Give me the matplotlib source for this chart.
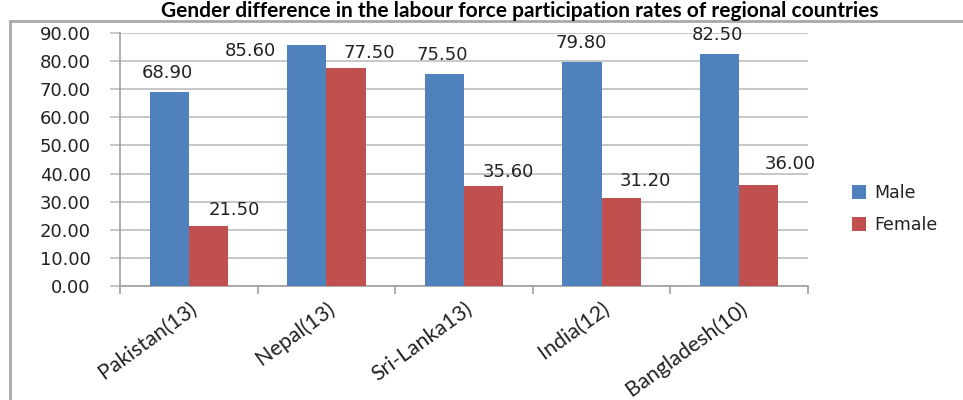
import matplotlib
matplotlib.use("Agg")
import matplotlib.pyplot as plt
from matplotlib.lines import Line2D
import numpy as np

countries = ["Pakistan(13)", "Nepal(13)", "Sri-Lanka13)", "India(12)", "Bangladesh(10)"]
male = [68.90, 85.60, 75.50, 79.80, 82.50]
female = [21.50, 77.50, 35.60, 31.20, 36.00]
yticks = [0, 10, 20, 30, 40, 50, 60, 70, 80, 90]

MALE_C = "#4F81BD"
FEMALE_C = "#C0504D"
GRID_C = "#BEBEBE"
TXT_C = "#222222"

plt.rcParams["font.family"] = ["DejaVu Sans"]

fig = plt.figure(figsize=(9.63, 4.0), dpi=100)
ax = fig.add_axes([120 / 963, 1 - 286 / 400, (808 - 120) / 963, (286 - 33) / 400])

x = np.arange(len(countries))
w = 0.285
b1 = ax.bar(x - w / 2, male, w, color=MALE_C, label="Male", zorder=3)
b2 = ax.bar(x + w / 2, female, w, color=FEMALE_C, label="Female", zorder=3)

ax.set_xlim(-0.5, len(countries) - 0.5)
ax.set_ylim(0, 90)
ax.set_yticks(yticks)
ax.set_yticklabels([f"{v:.2f}" for v in yticks], fontsize=13, color=TXT_C)
ax.yaxis.grid(True, color=GRID_C, linewidth=1.2, zorder=0)
ax.tick_params(axis="y", length=7, width=1.2, color=GRID_C, pad=14)

ax.set_xticks(np.arange(-0.5, len(countries), 1.0), minor=False)
ax.set_xticklabels([])
ax.set_xticks(x, minor=True)
ax.set_xticklabels(countries, minor=True, rotation=36, ha="right", rotation_mode="anchor",
                   fontsize=15.5, family="Lato", color=TXT_C)
ax.tick_params(axis="x", which="major", length=6, width=1.2, color="#A0A0A0", direction="out")
ax.tick_params(axis="x", which="minor", length=0, pad=9)

for s in ["top", "right"]:
    ax.spines[s].set_visible(False)
for s in ["left", "bottom"]:
    ax.spines[s].set_color("#A0A0A0")
    ax.spines[s].set_linewidth(1.2)

# value labels (pixel offsets relative to the top of each bar)
male_off = [(-2, 19), (-56, -6), (-2, 19), (-1, 19), (-2, 19)]
female_off = [(26, 16), (23, 15), (25, 14), (24, 17), (31, 21)]
for xi, v, (dx, dy) in zip(x - w / 2, male, male_off):
    ax.annotate(f"{v:.2f}", (xi, v), xytext=(dx, dy), textcoords="offset pixels",
                ha="center", va="center", fontsize=13, color=TXT_C, zorder=4)
for xi, v, (dx, dy) in zip(x + w / 2, female, female_off):
    ax.annotate(f"{v:.2f}", (xi, v), xytext=(dx, dy), textcoords="offset pixels",
                ha="center", va="center", fontsize=13, color=TXT_C, zorder=4)

fig.legend(handles=[b1, b2], loc="center left", bbox_to_anchor=(836 / 963, 1 - 209 / 400),
           frameon=False, fontsize=12.5, handlelength=0.8, handleheight=0.8,
           handletextpad=0.5, labelspacing=0.8, labelcolor=TXT_C)

# outer frame
frame_y = 1 - 21 / 400
fig.add_artist(Line2D([10 / 963, 10 / 963], [0, frame_y], transform=fig.transFigure,
                      color="#A8A8A8", linewidth=2))
fig.add_artist(Line2D([10 / 963, 1], [frame_y, frame_y], transform=fig.transFigure,
                      color="#A8A8A8", linewidth=2))

fig.text(520 / 963, 1 - 1 / 400,
         "Gender difference in the labour force participation rates of regional countries",
         ha="center", va="top", fontsize=15, fontweight="bold", family="Lato", color="black")

fig.savefig("out.png", dpi=100, facecolor="white")
